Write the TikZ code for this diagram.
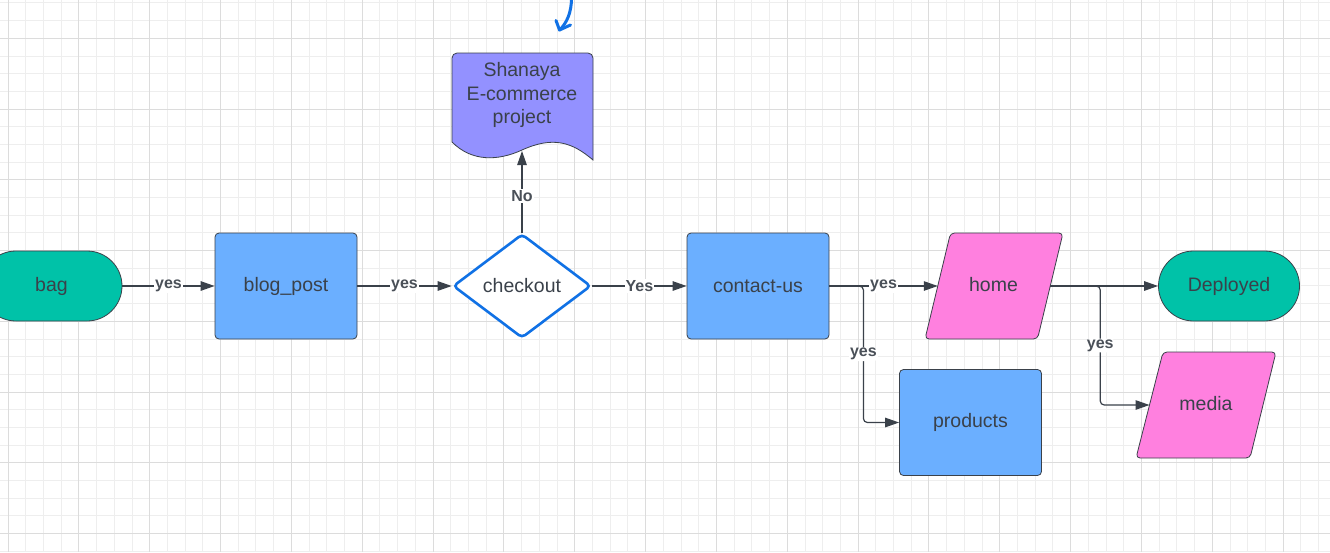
\documentclass[tikz,border=0pt]{standalone}
\usepackage{fontspec}
\setmainfont{Liberation Sans}
\usetikzlibrary{arrows.meta,shapes.geometric}
\definecolor{linec}{HTML}{3A414A}
\definecolor{txtc}{HTML}{3A414A}
\definecolor{lblc}{HTML}{4A5058}
\definecolor{termc}{HTML}{00C2A8}
\definecolor{boxc}{HTML}{6BAFFF}
\definecolor{parac}{HTML}{FF80DF}
\definecolor{docc}{HTML}{9391FF}
\definecolor{decc}{HTML}{1071E5}
\definecolor{gridminor}{HTML}{EEEEEE}
\definecolor{gridmajor}{HTML}{DCDCDC}
\newcommand{\mainfnt}{\fontsize{19.5}{23.5}\selectfont}
\begin{document}
\begin{tikzpicture}[x=1pt,y=-1pt,
  every node/.style={text=txtc, font=\mainfnt},
  box/.style={rectangle, draw=linec, line width=0.8pt, fill=boxc, rounded corners=4pt, minimum width=142pt, minimum height=106pt, inner sep=0pt},
  term/.style={rectangle, draw=linec, line width=0.8pt, fill=termc, rounded corners=35pt, minimum width=141pt, minimum height=70pt, inner sep=0pt},
  parashape/.style={draw=linec, line width=0.8pt, fill=parac, rounded corners=4pt},
  dec/.style={diamond, draw=decc, line width=2.6pt, fill=white, minimum width=138pt, minimum height=104pt, inner sep=0pt, aspect=1.33, rounded corners=4pt},
  arr/.style={draw=linec, line width=1.2pt, -{Triangle[length=14pt,width=9.5pt]}},
  lbl/.style={fill=white, inner sep=1pt, text=lblc, font=\bfseries\fontsize{16}{18}\selectfont}
]
\useasboundingbox (0,0) rectangle (1330,552);
\fill[white] (0,0) rectangle (1330,552);
% grid
\foreach \i in {0,...,74} {
  \pgfmathsetmacro{\gx}{8+17.71*\i}
  \draw[gridminor, line width=0.9pt] (\gx,0) -- (\gx,552);
}
\foreach \j in {0,...,31} {
  \pgfmathsetmacro{\gy}{2.9+17.69*\j}
  \draw[gridminor, line width=0.9pt] (0,\gy) -- (1330,\gy);
}
\foreach \i in {0,...,18} {
  \pgfmathsetmacro{\gx}{8+70.84*\i}
  \draw[gridmajor, line width=1pt] (\gx,0) -- (\gx,552);
}
\foreach \j in {-1,...,7} {
  \pgfmathsetmacro{\gy}{38.3+70.76*\j}
  \draw[gridmajor, line width=1pt] (0,\gy) -- (1330,\gy);
}

% nodes
\node[term] (bag) at (51.5,286) {bag};
\node[box] (blog) at (286,286) {blog\_post};
\node[dec] (checkout) at (522,286) {checkout};
\node[box] (contact) at (758,286) {contact-us};
\node[term] (deployed) at (1229,286) {Deployed};
\node[box] (products) at (970.5,422.5) {products};

% parallelograms
\draw[parashape] (950.5,233) -- (1063,233) -- (1037.5,339) -- (925,339) -- cycle;
\node (home) at (993.5,285) {home};
\coordinate (homeL) at (937.75,286);
\coordinate (homeR) at (1050.25,286);
\draw[parashape] (1163,352) -- (1276,352) -- (1250,458) -- (1136,458) -- cycle;
\node (media) at (1206,404) {media};
\coordinate (mediaL) at (1149.5,405);

% document shape
\draw[linec, line width=0.8pt, fill=docc]
  (452,142) -- (452,58) [rounded corners=5pt] -- (452,53) -- (593,53) [sharp corners] -- (593,160)
  .. controls (572,142) and (553,136) .. (522,150)
  .. controls (498,161) and (472,162) .. (452,142) -- cycle;
\node[align=center, inner sep=0pt] (doc) at (522,95) {Shanaya\\E-commerce\\project};
\coordinate (docb) at (522,151);

% connectors
\draw[arr] (bag) -- node[lbl]{yes} (blog);
\draw[arr] (blog) -- node[lbl]{yes} (checkout);
\draw[arr] (checkout) -- node[lbl]{Yes} (contact);
\draw[arr] (checkout.north) -- node[lbl, pos=0.45]{No} (docb);
\draw[arr, rounded corners=4pt] (contact.east) -- ++(34,0) |- node[lbl, pos=0.25]{yes} (products);
\draw[arr] (contact.east) -- node[lbl]{yes} (homeL);
\draw[arr, rounded corners=4pt] (homeR) -- ++(50,0) |- node[lbl, pos=0.25]{yes} (mediaL);
\draw[arr] (homeR) -- (deployed);

% blue hand-drawn arrow
\draw[decc, line width=3pt, line cap=round, line join=round]
  (571.5,-2) .. controls (571.5,12) and (567,23) .. (559.5,30);
\draw[decc, line width=3pt, line cap=round, line join=round]
  (556,20.5) -- (559.5,30) -- (570.5,25);
\end{tikzpicture}
\end{document}
